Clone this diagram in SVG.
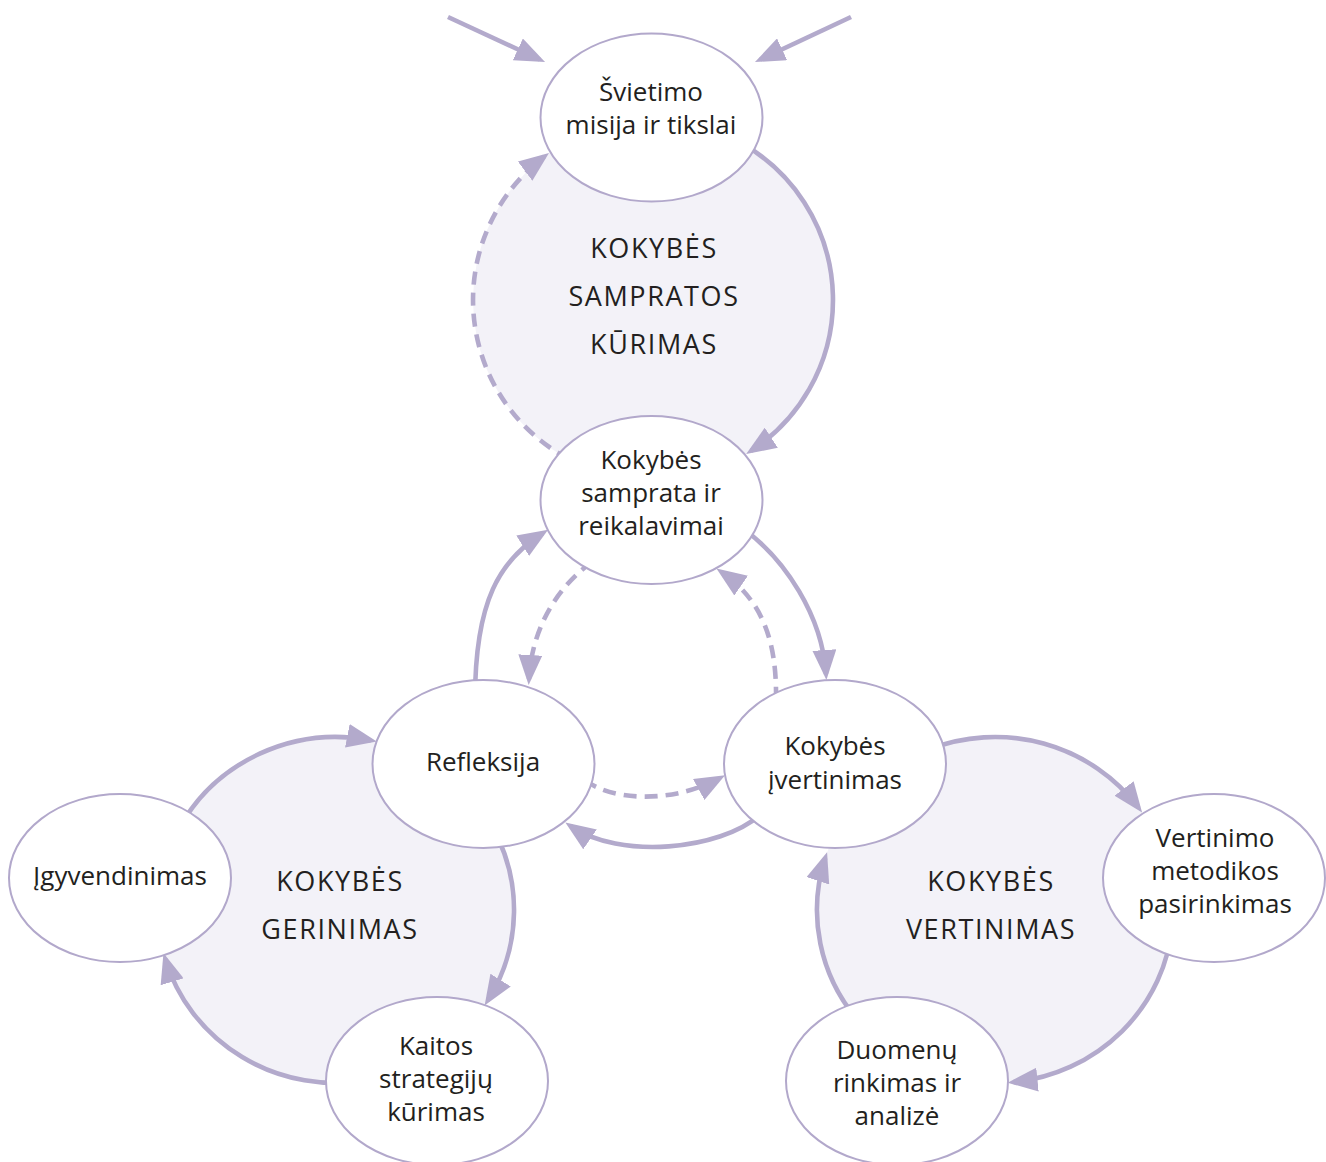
<svg xmlns="http://www.w3.org/2000/svg" width="1326" height="1162" viewBox="0 0 1326 1162">
<defs>
<style>
.region{fill:#f3f2f8;stroke:none}
.node ellipse{fill:#ffffff;stroke:#b2a8cb;stroke-width:2}
.node text{font-family:"Open Sans","Noto Sans","DejaVu Sans",sans-serif;font-size:26px;fill:#231f20;text-anchor:middle}
.lbl{font-family:"Open Sans","Noto Sans","DejaVu Sans",sans-serif;font-size:27px;fill:#231f20;text-anchor:middle;letter-spacing:1.6px}
.c{fill:none;stroke:#b3aacc;stroke-width:4.6;marker-end:url(#ah)}
.d{stroke-dasharray:13 8}
</style>
<marker id="ah" viewBox="0 0 30 24" refX="24" refY="12" markerWidth="30" markerHeight="24" markerUnits="userSpaceOnUse" orient="auto">
<path d="M0,0 L30,12 L0,24 z" fill="#b3aacc"/>
</marker>
</defs>
<rect width="1326" height="1162" fill="#ffffff"/>
<g id="regions">
<circle class="region" cx="653" cy="300" r="180"/>
<ellipse class="region" cx="336" cy="910" rx="178" ry="173"/>
<ellipse class="region" cx="995" cy="910" rx="178" ry="173"/>
<text class="lbl" x="654" y="258">KOKYBĖS</text>
<text class="lbl" x="654" y="306">SAMPRATOS</text>
<text class="lbl" x="654" y="354">KŪRIMAS</text>
<text class="lbl" x="340" y="891">KOKYBĖS</text>
<text class="lbl" x="340" y="939">GERINIMAS</text>
<text class="lbl" x="991" y="891">KOKYBĖS</text>
<text class="lbl" x="991" y="939">VERTINIMAS</text>
</g>
<g id="connectors">
<path class="c" d="M448 17 L539.6 59.5"/>
<path class="c" d="M851 17 L760.4 59.5"/>
<path class="c" d="M743 144.1 A180 180 0 0 1 751.2 450.8"/>
<path class="c d" d="M568.5 458.9 A180 180 0 0 1 544.2 156.6"/>
<path class="c" d="M475 700 C475 600 500 560 543 533"/>
<path class="c d" d="M592 562 C560 585 532 625 529 679"/>
<path class="c" d="M745 530 C785 560 822 615 826 674"/>
<path class="c d" d="M776 700 C777 640 762 600 721.4 572"/>
<path class="c d" d="M585 780 C610 800 670 805 719.8 778"/>
<path class="c" d="M760 815 C720 850 620 860 570.3 825.8"/>
<path class="c" d="M178.8 828.8 A178 173 0 0 1 370.9 740.4"/>
<path class="c" d="M490.2 823.5 A178 173 0 0 1 487.8 1000.4"/>
<path class="c" d="M366.9 1080.4 A178 173 0 0 1 165.2 958.8"/>
<path class="c" d="M928.3 749.6 A178 173 0 0 1 1138.5 807.6"/>
<path class="c" d="M1172.3 925.1 A178 173 0 0 1 1013.6 1082.1"/>
<path class="c" d="M858.6 1021.2 A178 173 0 0 1 825.2 858"/>
</g>
<g id="n-svietimo" class="node">
<ellipse cx="651.5" cy="117.5" rx="111" ry="84"/>
<text x="651" y="101">Švietimo</text>
<text x="651" y="134">misija ir tikslai</text>
</g>
<g id="n-samprata" class="node">
<ellipse cx="651.5" cy="500" rx="111" ry="84"/>
<text x="651" y="469">Kokybės</text>
<text x="651" y="502">samprata ir</text>
<text x="651" y="535">reikalavimai</text>
</g>
<g id="n-refleksija" class="node">
<ellipse cx="483.5" cy="764" rx="111" ry="84"/>
<text x="483" y="771">Refleksija</text>
</g>
<g id="n-ivertinimas" class="node">
<ellipse cx="835" cy="764" rx="111" ry="84"/>
<text x="835" y="755">Kokybės</text>
<text x="835" y="789">įvertinimas</text>
</g>
<g id="n-igyvendinimas" class="node">
<ellipse cx="120" cy="878" rx="111" ry="84"/>
<text x="120" y="885">Įgyvendinimas</text>
</g>
<g id="n-vertinimo" class="node">
<ellipse cx="1214" cy="878" rx="111" ry="84"/>
<text x="1215" y="847">Vertinimo</text>
<text x="1215" y="880">metodikos</text>
<text x="1215" y="913">pasirinkimas</text>
</g>
<g id="n-kaitos" class="node">
<ellipse cx="437" cy="1081" rx="111" ry="84"/>
<text x="436" y="1055">Kaitos</text>
<text x="436" y="1088">strategijų</text>
<text x="436" y="1121">kūrimas</text>
</g>
<g id="n-duomenu" class="node">
<ellipse cx="897" cy="1081" rx="111" ry="84"/>
<text x="897" y="1059">Duomenų</text>
<text x="897" y="1092">rinkimas ir</text>
<text x="897" y="1125">analizė</text>
</g>
</svg>
